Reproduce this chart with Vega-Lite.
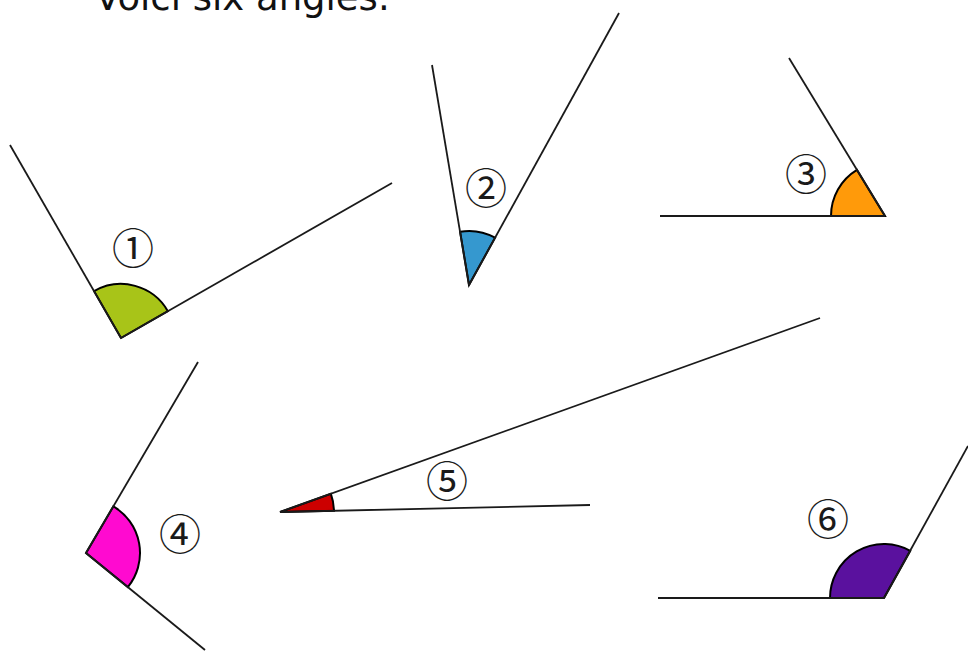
{
  "$schema": "https://vega.github.io/schema/vega-lite/v6.json",
  "width": 968,
  "height": 651,
  "padding": 0,
  "autosize": {"type": "none"},
  "background": "white",
  "config": {"view": {"stroke": null}},
  "datasets": {
    "sectors": [
      {"angle": "1", "vx": 121, "vy": 338, "a1": -29.9, "a2": 60.2},
      {"angle": "2", "vx": 469, "vy": 285, "a1": -9.5, "a2": 28.9},
      {"angle": "3", "vx": 885, "vy": 216, "a1": -90, "a2": -31.3},
      {"angle": "4", "vx": 86, "vy": 553, "a1": 30.4, "a2": 129.2},
      {"angle": "5", "vx": 280, "vy": 512, "a1": 70.2, "a2": 88.7},
      {"angle": "6", "vx": 884, "vy": 598, "a1": -90, "a2": 29.1}
    ],
    "rays": [
      {"angle": "1", "vx": 121, "vy": 338, "ex": 10, "ey": 145},
      {"angle": "1", "vx": 121, "vy": 338, "ex": 392, "ey": 183},
      {"angle": "2", "vx": 469, "vy": 285, "ex": 432, "ey": 65},
      {"angle": "2", "vx": 469, "vy": 285, "ex": 619, "ey": 13},
      {"angle": "3", "vx": 885, "vy": 216, "ex": 789, "ey": 58},
      {"angle": "3", "vx": 885, "vy": 216, "ex": 660, "ey": 216},
      {"angle": "4", "vx": 86, "vy": 553, "ex": 198, "ey": 362},
      {"angle": "4", "vx": 86, "vy": 553, "ex": 205, "ey": 650},
      {"angle": "5", "vx": 280, "vy": 512, "ex": 820, "ey": 318},
      {"angle": "5", "vx": 280, "vy": 512, "ex": 590, "ey": 505},
      {"angle": "6", "vx": 884, "vy": 598, "ex": 968, "ey": 446},
      {"angle": "6", "vx": 884, "vy": 598, "ex": 658, "ey": 598}
    ],
    "labels": [
      {"label": "①", "x": 133, "y": 251},
      {"label": "②", "x": 486, "y": 191},
      {"label": "③", "x": 806, "y": 177},
      {"label": "④", "x": 180, "y": 537},
      {"label": "⑤", "x": 447, "y": 484},
      {"label": "⑥", "x": 828, "y": 522}
    ],
    "title": [
      {"label": "Voici six angles.", "x": 95, "y": 10}
    ]
  },
  "layer": [
    {
      "data": {"name": "sectors"},
      "mark": {"type": "arc", "radius": 54, "stroke": "black", "strokeWidth": 2},
      "encoding": {
        "x": {"field": "vx", "type": "quantitative", "scale": {"domain": [0, 968], "nice": false, "zero": false}, "axis": null},
        "y": {"field": "vy", "type": "quantitative", "scale": {"domain": [0, 651], "nice": false, "zero": false, "reverse": true}, "axis": null},
        "theta": {"field": "a1", "type": "quantitative", "stack": null, "scale": {"domain": [0, 360], "range": [0, 6.283185307], "zero": false, "nice": false}},
        "theta2": {"field": "a2"},
        "color": {
          "field": "angle",
          "type": "nominal",
          "legend": null,
          "scale": {
            "domain": ["1", "2", "3", "4", "5", "6"],
            "range": ["#a8c418", "#3598cf", "#ff9a0a", "#ff0ad0", "#cc0000", "#5a119e"]
          }
        }
      }
    },
    {
      "data": {"name": "rays"},
      "mark": {"type": "rule", "color": "#1a1a1a", "strokeWidth": 1.8},
      "encoding": {
        "x": {"field": "vx", "type": "quantitative"},
        "y": {"field": "vy", "type": "quantitative"},
        "x2": {"field": "ex"},
        "y2": {"field": "ey"}
      }
    },
    {
      "data": {"name": "labels"},
      "mark": {"type": "text", "font": "Noto Sans CJK JP", "fontSize": 42, "color": "#1a1a1a", "align": "center", "baseline": "middle"},
      "encoding": {
        "x": {"field": "x", "type": "quantitative"},
        "y": {"field": "y", "type": "quantitative"},
        "text": {"field": "label"}
      }
    },
    {
      "data": {"name": "title"},
      "mark": {"type": "text", "font": "DejaVu Sans", "fontSize": 37, "color": "#111111", "align": "left", "baseline": "alphabetic"},
      "encoding": {
        "x": {"field": "x", "type": "quantitative"},
        "y": {"field": "y", "type": "quantitative"},
        "text": {"field": "label"}
      }
    }
  ]
}
